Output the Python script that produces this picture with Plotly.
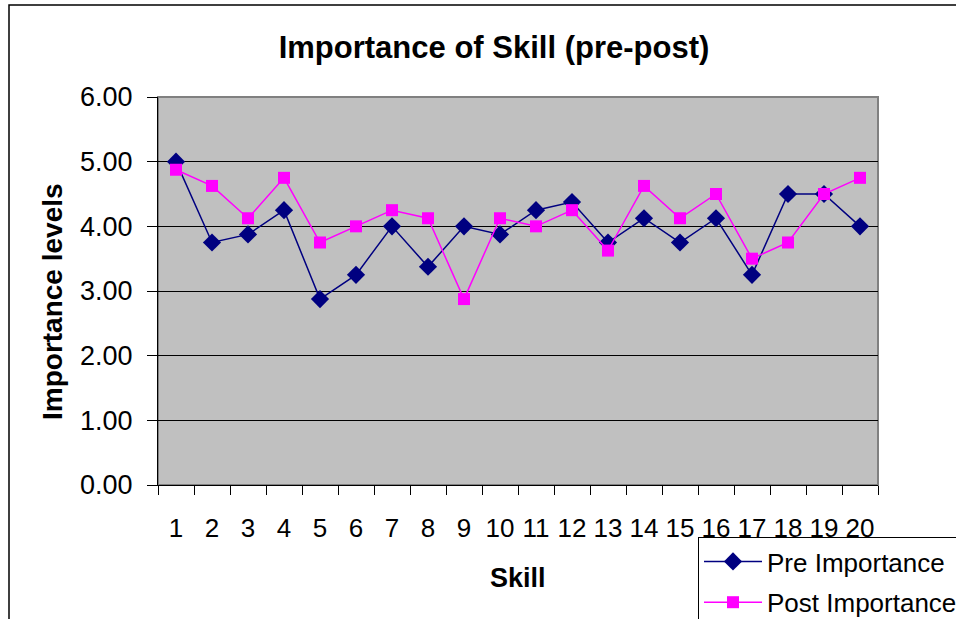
import plotly.graph_objects as go

skills = [str(i) for i in range(1, 21)]
pre_importance = [5.00, 3.75, 3.875, 4.25, 2.875, 3.25, 4.00, 3.375, 4.00, 3.875,
                  4.25, 4.375, 3.75, 4.125, 3.75, 4.125, 3.25, 4.50, 4.50, 4.00]
post_importance = [4.875, 4.625, 4.125, 4.75, 3.75, 4.00, 4.25, 4.125, 2.875, 4.125,
                   4.00, 4.25, 3.625, 4.625, 4.125, 4.50, 3.50, 3.75, 4.50, 4.75]
y_ticks = [0, 1, 2, 3, 4, 5, 6]

FONT = "Liberation Sans, Arial, sans-serif"
W, H = 956, 619
L, R, T, B = 158, 78, 97, 134
PW, PH = W - L - R, H - T - B

def px_x(x):
    return (x - L) / PW

def px_y(y):
    return (H - B - y) / PH

fig = go.Figure()
fig.add_trace(go.Scatter(
    x=skills, y=pre_importance, name="Pre Importance", mode="lines+markers",
    legendgroup="pre",
    line=dict(color="#000080", width=1.5),
    marker=dict(symbol="diamond", size=14, color="#000080"),
))
fig.add_trace(go.Scatter(
    x=skills, y=post_importance, name="Post Importance", mode="lines+markers",
    legendgroup="post",
    line=dict(color="#FF00FF", width=1.5),
    marker=dict(symbol="square", size=12, color="#FF00FF"),
))

fig.update_layout(
    width=W, height=H,
    margin=dict(l=L, r=R, t=T, b=B, autoexpand=False),
    paper_bgcolor="white",
    plot_bgcolor="#C0C0C0",
    font=dict(family=FONT, color="black"),
    title=dict(text="<b>Importance of Skill (pre-post)</b>", x=494 / W, xref="container",
               xanchor="center", y=1 - 47 / H, yref="container", yanchor="middle",
               font=dict(size=31, family=FONT, color="black")),
    showlegend=True,
    legend=dict(x=px_x(698), y=px_y(537), xanchor="left", yanchor="top",
                bgcolor="white", bordercolor="black", borderwidth=1,
                font=dict(size=26, family=FONT, color="black"),
                itemwidth=58, tracegroupgap=4),
    xaxis=dict(type="category", showgrid=False, showline=True, linecolor="black", linewidth=1,
               ticks="outside", tickson="boundaries", ticklen=9, tickcolor="black",
               tickangle=0, ticklabelstandoff=20,
               tickfont=dict(size=26, family=FONT, color="black"), zeroline=False,
               range=[-0.5, 19.5], fixedrange=True),
    yaxis=dict(range=[0, 6], tickvals=y_ticks, tickformat=".2f", showgrid=True,
               gridcolor="black", gridwidth=1, showline=True, linecolor="black", linewidth=1,
               ticks="outside", ticklen=10, tickcolor="black", zeroline=False,
               tickfont=dict(size=27, family=FONT, color="black"), ticklabelstandoff=9),
    shapes=[
        dict(type="rect", xref="paper", yref="paper", x0=0, x1=1, y0=0, y1=1,
             line=dict(color="#808080", width=2), layer="below"),
        dict(type="rect", xref="paper", yref="paper", x0=px_x(9), x1=px_x(1100),
             y0=px_y(800), y1=px_y(5), line=dict(color="black", width=1.5)),
    ],
    annotations=[
        dict(text="<b>Importance levels</b>", x=px_x(52), y=px_y(302), xref="paper", yref="paper",
             textangle=-90, showarrow=False, xanchor="center", yanchor="middle",
             font=dict(size=28, family=FONT, color="black")),
        dict(text="<b>Skill</b>", x=px_x(518), y=px_y(578), xref="paper", yref="paper",
             showarrow=False, xanchor="center", yanchor="middle",
             font=dict(size=27, family=FONT, color="black")),
    ],
)

fig.write_html("out.html", config={"displayModeBar": False},
               post_script="document.body.style.margin='0';document.body.style.overflow='hidden';")
